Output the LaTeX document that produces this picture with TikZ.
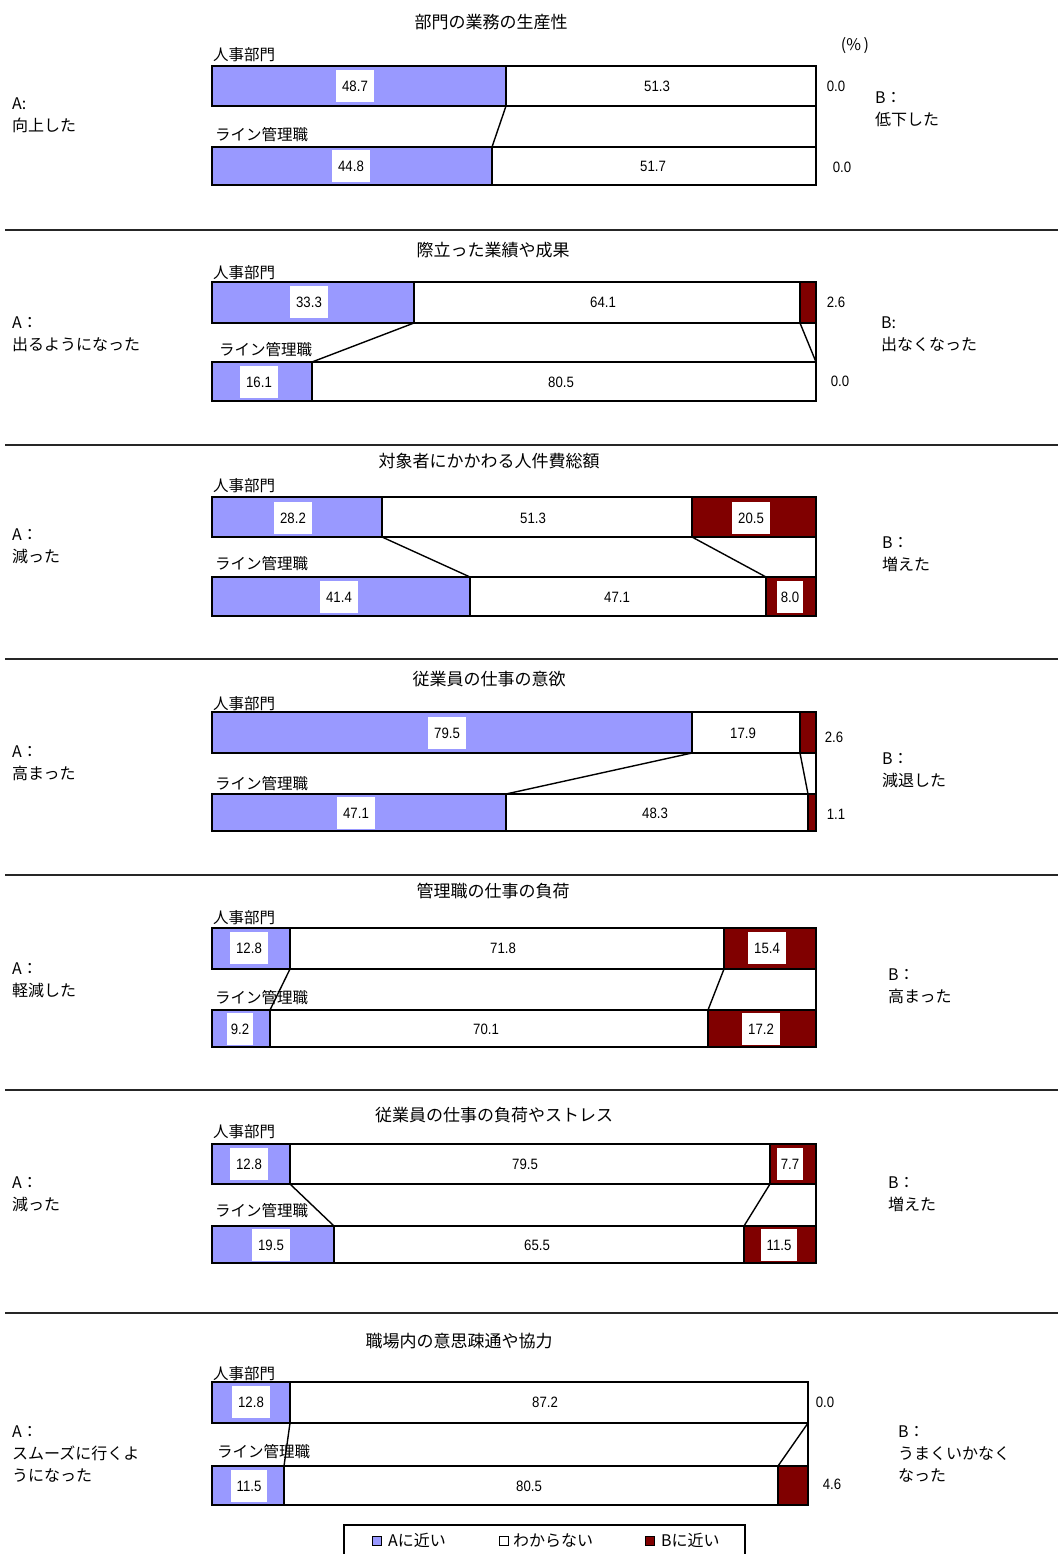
\documentclass[tikz,border=0pt]{standalone}
\usepackage{fontspec}
\setmainfont[FakeStretch=0.88]{Liberation Sans}
\newfontfamily\jp{Noto Sans CJK JP}
\definecolor{blueA}{RGB}{153,153,255}
\definecolor{redB}{RGB}{128,0,0}
\tikzset{
 seg/.style={draw=black,line width=1.6pt,inner sep=0pt,outer sep=0pt,rectangle},
 conn/.style={draw=black,line width=1.4pt},
 sepline/.style={draw=black!85,line width=1.6pt},
 val/.style={font=\fontsize{15}{15}\selectfont,inner sep=0pt},
 valbox/.style={val,fill=white,inner xsep=6pt,minimum height=32pt},
 title/.style={font=\jp\fontsize{17}{17}\selectfont,inner sep=0pt},
 grp/.style={font=\jp\fontsize{15.5}{15.5}\selectfont,inner sep=0pt,anchor=west},
 side/.style={font=\jp\fontsize{16}{22}\selectfont,inner sep=0pt,anchor=west,align=left},
 leg/.style={font=\jp\fontsize{16}{16}\selectfont,inner sep=0pt,anchor=west},
 legsq/.style={draw=black,line width=1pt,minimum size=9pt,inner sep=0pt},
}
\newcommand\mkbar[6]{%
 \node[seg,fill=blueA,minimum width={#4-212},minimum height={#3-#2}] (#1a) at ({(212+#4)/2},{-(#2+#3)/2}) {};
 \node[seg,fill=white,minimum width={#5-#4},minimum height={#3-#2}] (#1w) at ({(#4+#5)/2},{-(#2+#3)/2}) {};
 \node[seg,fill=redB,minimum width={#6-#5},minimum height={#3-#2}] (#1b) at ({(#5+#6)/2},{-(#2+#3)/2}) {};
}
\newcommand\mklink[2]{%
 \draw[conn] (#1a.south east) -- (#2a.north east);
 \draw[conn] (#1w.south east) -- (#2w.north east);
 \draw[conn] (#1b.south east) -- (#2b.north east);
}
\begin{document}
\begin{tikzpicture}[x=1pt,y=1pt]
\useasboundingbox (0,0) rectangle (1058,-1554);

% separators
\coordinate (s1a) at (5,-230);  \coordinate (s1b) at (1058,-230);
\coordinate (s2a) at (5,-445);  \coordinate (s2b) at (1058,-445);
\coordinate (s3a) at (5,-659);  \coordinate (s3b) at (1058,-659);
\coordinate (s4a) at (5,-875);  \coordinate (s4b) at (1058,-875);
\coordinate (s5a) at (5,-1090); \coordinate (s5b) at (1058,-1090);
\coordinate (s6a) at (5,-1313); \coordinate (s6b) at (1058,-1313);
\foreach \i in {1,...,6} {\draw[sepline] (s\i a) -- (s\i b);}

% ---------- Panel 1 ----------
\node[title] (t1) at (491,-22) {部門の業務の生産性};
\node[val,font=\jp\fontsize{16}{16}\selectfont] (pct) at (855,-46) {(\%\,)};
\node[grp] (g1a) at (213,-55) {人事部門};
\node[grp] (g1b) at (215,-135) {ライン管理職};
\mkbar{p1t}{66}{106}{506}{816}{816}
\mkbar{p1l}{147}{185}{492}{816}{816}
\mklink{p1t}{p1l}
\node[valbox] (v11) at (355,-86) {48.7};
\node[val] (v12) at (657,-86) {51.3};
\node[val] (v13) at (836,-86) {0.0};
\node[valbox] (v14) at (351,-166) {44.8};
\node[val] (v15) at (653,-166) {51.7};
\node[val] (v16) at (842,-167) {0.0};
\node[side] (a1) at (12,-115) {A:\\向上した};
\node[side] (b1) at (875,-109) {B：\\低下した};

% ---------- Panel 2 ----------
\node[title] (t2) at (493,-250) {際立った業績や成果};
\node[grp] (g2a) at (213,-273) {人事部門};
\node[grp] (g2b) at (219,-350) {ライン管理職};
\mkbar{p2t}{282}{323}{414}{800}{816}
\mkbar{p2l}{362}{401}{312}{816}{816}
\mklink{p2t}{p2l}
\node[valbox] (v21) at (309,-302) {33.3};
\node[val] (v22) at (603,-302) {64.1};
\node[val] (v23) at (836,-302) {2.6};
\node[valbox] (v24) at (259,-382) {16.1};
\node[val] (v25) at (561,-382) {80.5};
\node[val] (v26) at (840,-381) {0.0};
\node[side] (a2) at (12,-334) {A：\\出るようになった};
\node[side] (b2) at (881,-334) {B:\\出なくなった};

% ---------- Panel 3 ----------
\node[title] (t3) at (489,-461) {対象者にかかわる人件費総額};
\node[grp] (g3a) at (213,-486) {人事部門};
\node[grp] (g3b) at (215,-564) {ライン管理職};
\mkbar{p3t}{497}{537}{382}{692}{816}
\mkbar{p3l}{577}{616}{470}{766}{816}
\mklink{p3t}{p3l}
\node[valbox] (v31) at (293,-518) {28.2};
\node[val] (v32) at (533,-518) {51.3};
\node[valbox] (v33) at (751,-518) {20.5};
\node[valbox] (v34) at (339,-597) {41.4};
\node[val] (v35) at (617,-597) {47.1};
\node[valbox,inner xsep=4pt] (v36) at (790,-597) {8.0};
\node[side] (a3) at (12,-546) {A：\\減った};
\node[side] (b3) at (882,-554) {B：\\増えた};

% ---------- Panel 4 ----------
\node[title] (t4) at (489,-679) {従業員の仕事の意欲};
\node[grp] (g4a) at (213,-704) {人事部門};
\node[grp] (g4b) at (215,-784) {ライン管理職};
\mkbar{p4t}{712}{753}{692}{800}{816}
\mkbar{p4l}{794}{831}{506}{808}{816}
\mklink{p4t}{p4l}
\node[valbox] (v41) at (447,-733) {79.5};
\node[val] (v42) at (743,-733) {17.9};
\node[val] (v43) at (834,-737) {2.6};
\node[valbox] (v44) at (356,-813) {47.1};
\node[val] (v45) at (655,-813) {48.3};
\node[val] (v46) at (836,-814) {1.1};
\node[side] (a4) at (12,-763) {A：\\高まった};
\node[side] (b4) at (882,-770) {B：\\減退した};

% ---------- Panel 5 ----------
\node[title] (t5) at (493,-891) {管理職の仕事の負荷};
\node[grp] (g5a) at (213,-918) {人事部門};
\node[grp] (g5b) at (215,-998) {ライン管理職};
\mkbar{p5t}{928}{969}{290}{724}{816}
\mkbar{p5l}{1010}{1047}{270}{708}{816}
\mklink{p5t}{p5l}
\node[valbox] (v51) at (249,-948) {12.8};
\node[val] (v52) at (503,-948) {71.8};
\node[valbox] (v53) at (767,-948) {15.4};
\node[valbox,inner xsep=4pt] (v54) at (240,-1029) {9.2};
\node[val] (v55) at (486,-1029) {70.1};
\node[valbox] (v56) at (761,-1029) {17.2};
\node[side] (a5) at (12,-980) {A：\\軽減した};
\node[side] (b5) at (888,-986) {B：\\高まった};

% ---------- Panel 6 ----------
\node[title] (t6) at (494,-1115) {従業員の仕事の負荷やストレス};
\node[grp] (g6a) at (213,-1132) {人事部門};
\node[grp] (g6b) at (215,-1211) {ライン管理職};
\mkbar{p6t}{1144}{1184}{290}{770}{816}
\mkbar{p6l}{1226}{1263}{334}{744}{816}
\mklink{p6t}{p6l}
\node[valbox] (v61) at (249,-1164) {12.8};
\node[val] (v62) at (525,-1164) {79.5};
\node[valbox,inner xsep=4pt] (v63) at (790,-1164) {7.7};
\node[valbox] (v64) at (271,-1245) {19.5};
\node[val] (v65) at (537,-1245) {65.5};
\node[valbox] (v66) at (779,-1245) {11.5};
\node[side] (a6) at (12,-1194) {A：\\減った};
\node[side] (b6) at (888,-1194) {B：\\増えた};

% ---------- Panel 7 ----------
\node[title] (t7) at (459,-1341) {職場内の意思疎通や協力};
\node[grp] (g7a) at (213,-1374) {人事部門};
\node[grp] (g7b) at (217,-1452) {ライン管理職};
\mkbar{p7t}{1382}{1423}{290}{808}{808}
\mkbar{p7l}{1466}{1505}{284}{778}{808}
\mklink{p7t}{p7l}
\node[valbox] (v71) at (251,-1402) {12.8};
\node[val] (v72) at (545,-1402) {87.2};
\node[val] (v73) at (825,-1402) {0.0};
\node[valbox] (v74) at (249,-1486) {11.5};
\node[val] (v75) at (529,-1486) {80.5};
\node[val] (v76) at (832,-1484) {4.6};
\node[side] (a7) at (12,-1454) {A：\\スムーズに行くよ\\うになった};
\node[side] (b7) at (898,-1454) {B：\\うまくいかなく\\なった};

% ---------- Legend ----------
\draw[line width=1.6pt] (344,-1560) -- (344,-1525) -- (745,-1525) -- (745,-1560);
\node[legsq,fill=blueA] (lq1) at (377,-1540.5) {};
\node[leg] (lt1) at (388,-1540.5) {Aに近い};
\node[legsq,fill=white] (lq2) at (504,-1540.5) {};
\node[leg] (lt2) at (513,-1540.5) {わからない};
\node[legsq,fill=redB] (lq3) at (650,-1540.5) {};
\node[leg] (lt3) at (661,-1540.5) {Bに近い};
\end{tikzpicture}
\end{document}
